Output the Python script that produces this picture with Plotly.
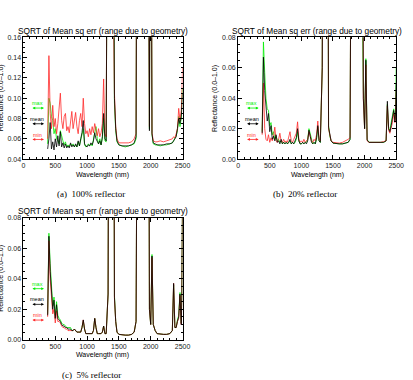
import plotly.graph_objects as go

W = 413
H = 380

# ---------------- data ----------------
wl_vis = [380, 400, 420, 440, 460, 480, 500, 520, 540, 560,
          580, 600, 620, 640, 660, 680, 700, 720, 740, 760,
          780, 800, 820, 840, 860, 880, 900, 920, 940, 960,
          980, 1000, 1020, 1040, 1060, 1080, 1100, 1120, 1140, 1160,
          1180, 1200, 1220, 1240, 1260, 1280, 1300]
wl_ir = [1330, 1360, 1400, 1430, 1450, 1470, 1500, 1550, 1600, 1650,
         1700, 1740, 1770, 1790, 1850, 1900, 1950, 1980, 2000, 2020,
         2040, 2070, 2100, 2150, 2200, 2250, 2300, 2340, 2360, 2380,
         2400, 2420, 2440, 2460, 2480, 2490, 2500]
wavelength = wl_vis + wl_ir

# (a) 100% reflector
a_max = [0.055, 0.100, 0.095, 0.082, 0.078, 0.065, 0.070, 0.060, 0.058, 0.055,
         0.068, 0.062, 0.058, 0.054, 0.057, 0.052, 0.054, 0.052, 0.055, 0.053,
         0.055, 0.052, 0.054, 0.052, 0.057, 0.053, 0.058, 0.062, 0.070, 0.054,
         0.052, 0.053, 0.055, 0.053, 0.055, 0.053, 0.060, 0.068, 0.072, 0.060,
         0.055, 0.060, 0.054, 0.060, 0.080, 0.058, 0.057] + \
        [0.5, 0.5, 0.5, 0.095, 0.068, 0.057, 0.054, 0.053, 0.052, 0.053,
         0.054, 0.055, 0.060, 0.5, 0.5, 0.5, 0.5, 0.070, 0.5, 0.064,
         0.055, 0.054, 0.054, 0.053, 0.054, 0.054, 0.055, 0.056, 0.058, 0.060,
         0.063, 0.068, 0.082, 0.072, 0.080, 0.095, 0.110]
a_mean = [0.050, 0.060, 0.076, 0.050, 0.057, 0.049, 0.060, 0.052, 0.063, 0.053,
          0.067, 0.052, 0.056, 0.051, 0.055, 0.051, 0.053, 0.051, 0.056, 0.052,
          0.054, 0.052, 0.055, 0.052, 0.058, 0.053, 0.060, 0.066, 0.078, 0.055,
          0.053, 0.052, 0.054, 0.053, 0.056, 0.054, 0.058, 0.066, 0.060, 0.057,
          0.055, 0.058, 0.054, 0.062, 0.085, 0.060, 0.058] + \
         [0.5, 0.5, 0.5, 0.100, 0.070, 0.058, 0.054, 0.053, 0.053, 0.053,
          0.054, 0.056, 0.062, 0.5, 0.5, 0.5, 0.5, 0.068, 0.5, 0.065,
          0.056, 0.055, 0.054, 0.054, 0.054, 0.055, 0.055, 0.056, 0.058, 0.060,
          0.062, 0.070, 0.080, 0.075, 0.082, 0.090, 0.105]
a_min = [0.060, 0.142, 0.085, 0.070, 0.093, 0.072, 0.080, 0.065, 0.075, 0.090,
         0.105, 0.078, 0.070, 0.082, 0.085, 0.068, 0.072, 0.066, 0.078, 0.087,
         0.070, 0.080, 0.086, 0.072, 0.065, 0.078, 0.085, 0.072, 0.100, 0.075,
         0.065, 0.068, 0.062, 0.070, 0.064, 0.072, 0.066, 0.075, 0.068, 0.063,
         0.070, 0.062, 0.066, 0.075, 0.119, 0.065, 0.062] + \
        [0.5, 0.5, 0.5, 0.105, 0.072, 0.060, 0.056, 0.056, 0.056, 0.056,
         0.057, 0.060, 0.065, 0.5, 0.5, 0.5, 0.5, 0.072, 0.5, 0.066,
         0.058, 0.057, 0.057, 0.058, 0.057, 0.058, 0.059, 0.060, 0.062, 0.061,
         0.065, 0.070, 0.090, 0.078, 0.088, 0.100, 0.130]

# (b) 20% reflector
b_max = [0.018, 0.077, 0.057, 0.040, 0.033, 0.032, 0.022, 0.024, 0.016, 0.018,
         0.013, 0.015, 0.012, 0.013, 0.011, 0.012, 0.010, 0.011, 0.010, 0.011,
         0.010, 0.011, 0.012, 0.010, 0.011, 0.010, 0.011, 0.013, 0.018, 0.012,
         0.010, 0.010, 0.011, 0.010, 0.011, 0.011, 0.013, 0.020, 0.016, 0.012,
         0.010, 0.011, 0.010, 0.013, 0.021, 0.012, 0.011] + \
        [0.06, 0.5, 0.5, 0.022, 0.015, 0.012, 0.0105, 0.010, 0.010, 0.010,
         0.0105, 0.011, 0.013, 0.2, 0.5, 0.5, 0.5, 0.045, 0.020, 0.066,
         0.013, 0.011, 0.011, 0.011, 0.011, 0.011, 0.011, 0.012, 0.036, 0.020,
         0.019, 0.024, 0.028, 0.033, 0.026, 0.032, 0.060]
b_mean = [0.017, 0.067, 0.045, 0.035, 0.025, 0.030, 0.018, 0.022, 0.013, 0.015,
          0.012, 0.016, 0.011, 0.012, 0.010, 0.013, 0.010, 0.011, 0.010, 0.011,
          0.010, 0.011, 0.013, 0.010, 0.011, 0.010, 0.012, 0.014, 0.020, 0.012,
          0.010, 0.010, 0.011, 0.010, 0.011, 0.010, 0.012, 0.019, 0.015, 0.011,
          0.010, 0.011, 0.010, 0.014, 0.022, 0.012, 0.011] + \
         [0.06, 0.5, 0.5, 0.021, 0.015, 0.012, 0.0105, 0.010, 0.010, 0.010,
          0.0105, 0.011, 0.013, 0.2, 0.5, 0.5, 0.5, 0.040, 0.020, 0.065,
          0.0125, 0.011, 0.011, 0.011, 0.011, 0.011, 0.011, 0.012, 0.038, 0.020,
          0.018, 0.022, 0.026, 0.032, 0.025, 0.030, 0.050]
b_min = [0.016, 0.050, 0.020, 0.013, 0.012, 0.016, 0.011, 0.014, 0.012, 0.015,
         0.021, 0.012, 0.011, 0.013, 0.017, 0.012, 0.011, 0.013, 0.011, 0.012,
         0.011, 0.014, 0.018, 0.012, 0.011, 0.013, 0.015, 0.017, 0.0245, 0.013,
         0.011, 0.012, 0.011, 0.013, 0.011, 0.012, 0.013, 0.018, 0.014, 0.012,
         0.011, 0.013, 0.012, 0.016, 0.025, 0.013, 0.012] + \
        [0.06, 0.5, 0.5, 0.020, 0.015, 0.012, 0.011, 0.0105, 0.0105, 0.011,
         0.012, 0.013, 0.014, 0.2, 0.5, 0.5, 0.5, 0.040, 0.020, 0.062,
         0.012, 0.011, 0.011, 0.011, 0.011, 0.011, 0.0115, 0.012, 0.035, 0.019,
         0.017, 0.020, 0.024, 0.030, 0.024, 0.028, 0.045]

# (c) 5% reflector
c_max = [0.017, 0.070, 0.050, 0.037, 0.022, 0.028, 0.016, 0.025, 0.016, 0.014,
         0.013, 0.011, 0.010, 0.010, 0.009, 0.008, 0.008, 0.008, 0.008, 0.006,
         0.006, 0.007, 0.006, 0.005, 0.005, 0.005, 0.005, 0.008, 0.012, 0.007,
         0.004, 0.004, 0.004, 0.004, 0.004, 0.004, 0.006, 0.014, 0.008, 0.004,
         0.004, 0.004, 0.004, 0.005, 0.009, 0.004, 0.004] + \
        [0.03, 0.5, 0.5, 0.029, 0.012, 0.005, 0.0035, 0.003, 0.003, 0.003,
         0.0035, 0.005, 0.012, 0.2, 0.5, 0.5, 0.5, 0.020, 0.010, 0.056,
         0.010, 0.006, 0.004, 0.0035, 0.0035, 0.0035, 0.004, 0.006, 0.036, 0.008,
         0.008, 0.013, 0.016, 0.031, 0.011, 0.030, 0.090]
c_mean = [0.016, 0.068, 0.045, 0.035, 0.020, 0.026, 0.014, 0.023, 0.014, 0.013,
          0.012, 0.010, 0.009, 0.009, 0.008, 0.008, 0.007, 0.007, 0.007, 0.006,
          0.006, 0.007, 0.006, 0.005, 0.005, 0.005, 0.005, 0.008, 0.013, 0.007,
          0.004, 0.004, 0.004, 0.004, 0.004, 0.004, 0.006, 0.014, 0.008, 0.004,
          0.004, 0.004, 0.004, 0.005, 0.009, 0.004, 0.004] + \
         [0.03, 0.5, 0.5, 0.028, 0.012, 0.005, 0.0035, 0.003, 0.003, 0.003,
          0.0035, 0.005, 0.012, 0.2, 0.5, 0.5, 0.5, 0.020, 0.010, 0.055,
          0.010, 0.006, 0.004, 0.0035, 0.0035, 0.0035, 0.004, 0.006, 0.037, 0.008,
          0.008, 0.012, 0.015, 0.030, 0.010, 0.028, 0.090]
c_min = [0.015, 0.065, 0.040, 0.030, 0.017, 0.020, 0.011, 0.019, 0.012, 0.012,
         0.011, 0.009, 0.008, 0.008, 0.007, 0.007, 0.006, 0.006, 0.006, 0.006,
         0.006, 0.007, 0.006, 0.005, 0.005, 0.005, 0.005, 0.008, 0.013, 0.007,
         0.004, 0.004, 0.004, 0.004, 0.004, 0.004, 0.006, 0.014, 0.008, 0.004,
         0.004, 0.004, 0.004, 0.005, 0.009, 0.004, 0.004] + \
        [0.03, 0.5, 0.5, 0.027, 0.012, 0.005, 0.0035, 0.003, 0.003, 0.003,
         0.0035, 0.005, 0.012, 0.2, 0.5, 0.5, 0.5, 0.020, 0.010, 0.054,
         0.010, 0.006, 0.004, 0.0035, 0.0035, 0.0035, 0.004, 0.006, 0.037, 0.008,
         0.008, 0.012, 0.014, 0.029, 0.010, 0.027, 0.090]

titles = ["SQRT of Mean sq err (range due to geometry)"] * 3
captions = ["(a)  100% reflector", "(b)  20% reflector", "(c)  5% reflector"]
x_label = "Wavelength (nm)"
y_label = "Reflectance (0.0\u20131.0)"
y_ranges = [[0.04, 0.16], [0.0, 0.08], [0.0, 0.08]]
legend_names = ["max", "mean", "min"]

GREEN = "#00ee00"
BLACK = "#000000"
RED = "#ff2a2a"
colors = {"max": GREEN, "mean": BLACK, "min": RED}

panels = [
    dict(series={"max": a_max, "mean": a_mean, "min": a_min}, box=(22, 185, 34, 158)),
    dict(series={"max": b_max, "mean": b_mean, "min": b_min}, box=(242, 404, 34, 158)),
    dict(series={"max": c_max, "mean": c_mean, "min": c_min}, box=(22, 185, 218, 342)),
]


def X(px):
    return px / W


def Y(py):
    return 1 - py / H


fig = go.Figure()
annotations = []
SANS = "Liberation Sans, Arial, sans-serif"
SERIF = "Liberation Serif, Times New Roman, serif"

for i, p in enumerate(panels):
    n = "" if i == 0 else str(i + 1)
    xa = "x" + n
    ya = "y" + n
    for key in ["max", "min", "mean"]:
        fig.add_trace(go.Scatter(
            x=wavelength, y=p["series"][key], mode="lines",
            line=dict(color=colors[key], width=0.8),
            xaxis=xa, yaxis=ya, showlegend=False, hoverinfo="skip"))
    l, r, t, b = p["box"]
    axis_common = dict(showgrid=False, zeroline=False, showline=True,
                       linecolor="black", linewidth=1, mirror="allticks",
                       ticks="inside", ticklen=4, tickcolor="black", tickwidth=0.8,
                       tickfont=dict(family=SANS, size=7, color="#222222"))
    fig.update_layout(**{
        ("xaxis" + n): dict(axis_common, domain=[X(l), X(r)], range=[0, 2500],
                            tickvals=[0, 500, 1000, 1500, 2000, 2500],
                            minor=dict(dtick=100, ticks="inside", ticklen=2,
                                       tickcolor="black", tickwidth=0.6),
                            anchor=ya),
        ("yaxis" + n): dict(axis_common, domain=[Y(b), Y(t)], range=y_ranges[i],
                            dtick=0.02, tickformat=".2f",
                            minor=dict(dtick=0.005, ticks="inside", ticklen=2,
                                       tickcolor="black", tickwidth=0.6),
                            anchor=xa),
    })
    cx = (l + r) / 2
    annotations.append(dict(x=X(cx), y=Y(t - 7), xref="paper", yref="paper",
                            text=titles[i], showarrow=False, xanchor="center",
                            yanchor="middle",
                            font=dict(family=SANS, size=8.3, color="black")))
    annotations.append(dict(x=X(cx), y=Y(b + 16), xref="paper", yref="paper",
                            text=x_label, showarrow=False, xanchor="center",
                            yanchor="middle",
                            font=dict(family=SANS, size=7, color="black")))
    annotations.append(dict(x=X(l - 23), y=Y((t + b) / 2), xref="paper", yref="paper",
                            text=y_label, showarrow=False, textangle=-90,
                            xanchor="center", yanchor="middle",
                            font=dict(family=SANS, size=7, color="black")))
    annotations.append(dict(x=X(cx - 12), y=Y(b + 36), xref="paper", yref="paper",
                            text=captions[i], showarrow=False, xanchor="center",
                            yanchor="middle",
                            font=dict(family=SERIF, size=9, color="black")))
    # legend marks
    for j, key in enumerate(legend_names):
        ty = t + 67 + 16 * j
        annotations.append(dict(x=X(l + 14), y=Y(ty), xref="paper", yref="paper",
                                text=key, showarrow=False, xanchor="center",
                                yanchor="middle",
                                font=dict(family=SANS, size=5.5, color=colors[key])))
        annotations.append(dict(x=X(l + 21), y=Y(ty + 5), xref="paper", yref="paper",
                                ax=-13, ay=0, axref="pixel", ayref="pixel",
                                text="", showarrow=True, arrowside="end+start",
                                arrowhead=2, arrowsize=0.7, arrowwidth=0.8,
                                arrowcolor=colors[key], standoff=0, startstandoff=0))

fig.update_layout(width=W, height=H, margin=dict(l=0, r=0, t=0, b=0),
                  paper_bgcolor="white", plot_bgcolor="white",
                  annotations=annotations, showlegend=False)

fig.write_html("out.html")
